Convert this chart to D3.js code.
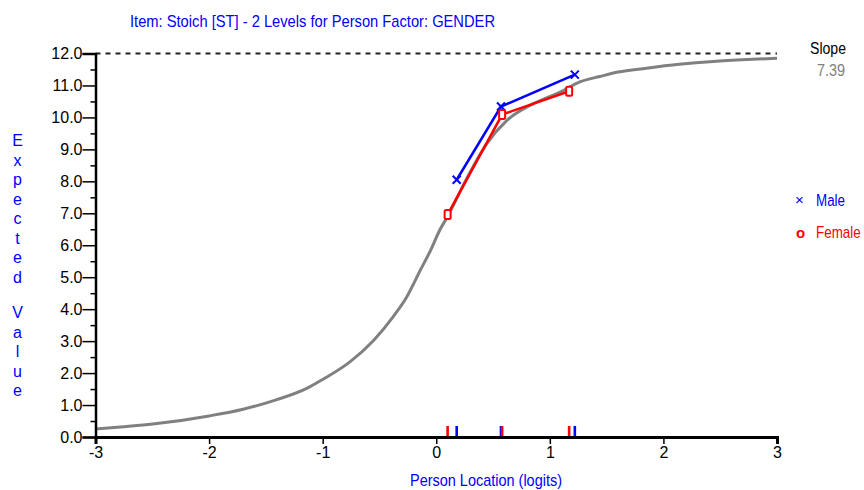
<!DOCTYPE html>
<html><head><meta charset="utf-8">
<script src="https://cdn.jsdelivr.net/npm/d3@7"></script>
<style>
html,body{margin:0;padding:0;background:#fff;}
svg{display:block;}
text{font-family:"Liberation Sans Narrow","Arial Narrow","Liberation Sans",Arial,sans-serif;}
</style></head>
<body><svg id="c" width="864" height="490"></svg>
<script>
// ---- data ----
const titleText = "Item: Stoich [ST] - 2 Levels for Person Factor: GENDER";
const xTitle = "Person Location (logits)";
const yTitle = ["E","x","p","e","c","t","e","d","","V","a","l","u","e"];
const xTicks = [-3,-2,-1,0,1,2,3];
const yTicks = [0,1,2,3,4,5,6,7,8,9,10,11,12];
const yMinorTicks = [0.5,1.5,2.5,3.5,4.5,5.5,6.5,7.5,8.5,9.5,10.5,11.5];
const maxScore = 12;
const slopeValue = "7.39";
// model expected-value curve
const curveLoc = [-3.0,-2.75,-2.46,-2.0,-1.7,-1.41,-1.14,-1.0,-0.76,-0.55,-0.38,-0.26,-0.14,-0.05,0.03,0.10,0.27,0.445,0.62,0.855,1.09,1.27,1.44,1.60,1.85,2.14,2.44,2.74,3.0];
const curveVal = [0.25,0.32,0.42,0.66,0.87,1.16,1.52,1.80,2.35,3.03,3.76,4.38,5.22,5.84,6.47,6.90,8.10,9.18,9.90,10.43,10.79,11.12,11.28,11.42,11.54,11.66,11.75,11.81,11.85];
// observed class means
const maleLoc = [0.18,0.57,1.22];
const maleVal = [8.05,10.34,11.34];
const femaleLoc = [0.10,0.58,1.17];
const femaleVal = [6.96,10.09,10.82];

// ---- drawing ----
const svg = d3.select("#c");
const x = d3.scaleLinear().domain([-3,3]).range([95.5,777]);
const y = d3.scaleLinear().domain([0,12]).range([437,53.5]);
const blue = "#0000ff", red = "#ff0000", grey = "#808080";

// title
svg.append("text").attr("x",130).attr("y",27).attr("fill",blue)
  .attr("font-size",17).attr("textLength",365).attr("lengthAdjust","spacingAndGlyphs")
  .text(titleText);

// dashed max line
svg.append("line").attr("x1",x(-3)).attr("x2",x(3)).attr("y1",y(maxScore)).attr("y2",y(maxScore))
  .attr("stroke","#222").attr("stroke-width",2).attr("stroke-dasharray","5,5");

// curve
const curvePts = curveLoc.map((d,i)=>[d,curveVal[i]]);
const line = d3.line().x(d=>x(d[0])).y(d=>y(d[1])).curve(d3.curveMonotoneX);
svg.append("path").attr("d",line(curvePts)).attr("fill","none")
  .attr("stroke",grey).attr("stroke-width",3);

// group lines
const lin = d3.line().x(d=>x(d[0])).y(d=>y(d[1]));
const malePts = maleLoc.map((d,i)=>[d,maleVal[i]]);
const femalePts = femaleLoc.map((d,i)=>[d,femaleVal[i]]);
svg.append("path").attr("d",lin(malePts)).attr("fill","none").attr("stroke",blue).attr("stroke-width",2.5);
svg.append("path").attr("d",lin(femalePts)).attr("fill","none").attr("stroke",red).attr("stroke-width",2.5);

// markers
malePts.forEach(p=>{
  const cx=x(p[0]), cy=y(p[1]);
  svg.append("path").attr("d",`M${cx-4},${cy-4}L${cx+4},${cy+4}M${cx+4},${cy-4}L${cx-4},${cy+4}`)
    .attr("stroke",blue).attr("stroke-width",2);
});
femalePts.forEach(p=>{
  const cx=x(p[0]), cy=y(p[1]);
  svg.append("rect").attr("x",cx-3).attr("y",cy-4.5).attr("width",6).attr("height",9).attr("rx",1.5)
    .attr("fill","#fff").attr("stroke",red).attr("stroke-width",2);
});

// rug ticks
maleLoc.forEach(v=>{
  svg.append("rect").attr("x",x(v)-1.3).attr("y",426).attr("width",2.6).attr("height",11).attr("fill",blue);
});
femaleLoc.forEach(v=>{
  svg.append("rect").attr("x",x(v)-1.3).attr("y",426).attr("width",2.6).attr("height",11).attr("fill",red);
});

// y axis
const yAx = svg.append("g").attr("transform",`translate(${x(-3)},0)`)
  .call(d3.axisLeft(y).tickValues(yTicks).tickSize(13).tickFormat(d3.format(".1f")));
yAx.select(".domain").attr("stroke","#000").attr("stroke-width",2.5);
yAx.selectAll(".tick line").attr("stroke","#000").attr("stroke-width",1.5);
yAx.selectAll(".tick text").attr("font-size",16).attr("fill","#000").attr("x",-13).attr("font-family",null);
const yMin = svg.append("g").attr("transform",`translate(${x(-3)},0)`)
  .call(d3.axisLeft(y).tickValues(yMinorTicks).tickSize(5).tickFormat(""));
yMin.select(".domain").remove();
yMin.selectAll(".tick line").attr("stroke","#000").attr("stroke-width",1.5);

// x axis
const xAx = svg.append("g").attr("transform",`translate(0,${y(0)})`)
  .call(d3.axisBottom(x).tickValues(xTicks).tickSize(7).tickFormat(d=>String(d)));
xAx.select(".domain").attr("stroke","#000").attr("stroke-width",3);
xAx.selectAll(".tick line").attr("stroke","#000").attr("stroke-width",1.5);
xAx.selectAll(".tick text").attr("font-size",16).attr("fill","#000").attr("y",10).attr("font-family",null);

// x title
svg.append("text").attr("x",410).attr("y",486).attr("fill",blue).attr("font-size",17)
  .attr("textLength",152).attr("lengthAdjust","spacingAndGlyphs").text(xTitle);

// y title (stacked letters)
yTitle.forEach((ch,i)=>{
  if(!ch) return;
  const yy = i<8 ? 140+19.5*i : 312+19.5*(i-9);
  svg.append("text").attr("x",17.5).attr("y",yy+6).attr("text-anchor","middle")
    .attr("fill",blue).attr("font-size",16).text(ch);
});

// slope
svg.append("text").attr("x",810).attr("y",54).attr("fill","#000").attr("font-size",16)
  .attr("textLength",36).attr("lengthAdjust","spacingAndGlyphs").text("Slope");
svg.append("text").attr("x",817).attr("y",76).attr("fill",grey).attr("font-size",16)
  .attr("textLength",28).attr("lengthAdjust","spacingAndGlyphs").text(slopeValue);

// legend
svg.append("text").attr("x",799.5).attr("y",205).attr("text-anchor","middle").attr("fill",blue)
  .attr("font-size",15).text("×");
svg.append("text").attr("x",816).attr("y",206).attr("fill",blue).attr("font-size",16)
  .attr("textLength",29).attr("lengthAdjust","spacingAndGlyphs").text("Male");
svg.append("text").attr("x",800.5).attr("y",238).attr("text-anchor","middle").attr("fill",red)
  .attr("font-size",15).attr("font-weight","bold").text("o");
svg.append("text").attr("transform","translate(816,238) scale(0.84,1)").attr("fill",red)
  .attr("font-size",16).text("Female");
</script></body></html>
